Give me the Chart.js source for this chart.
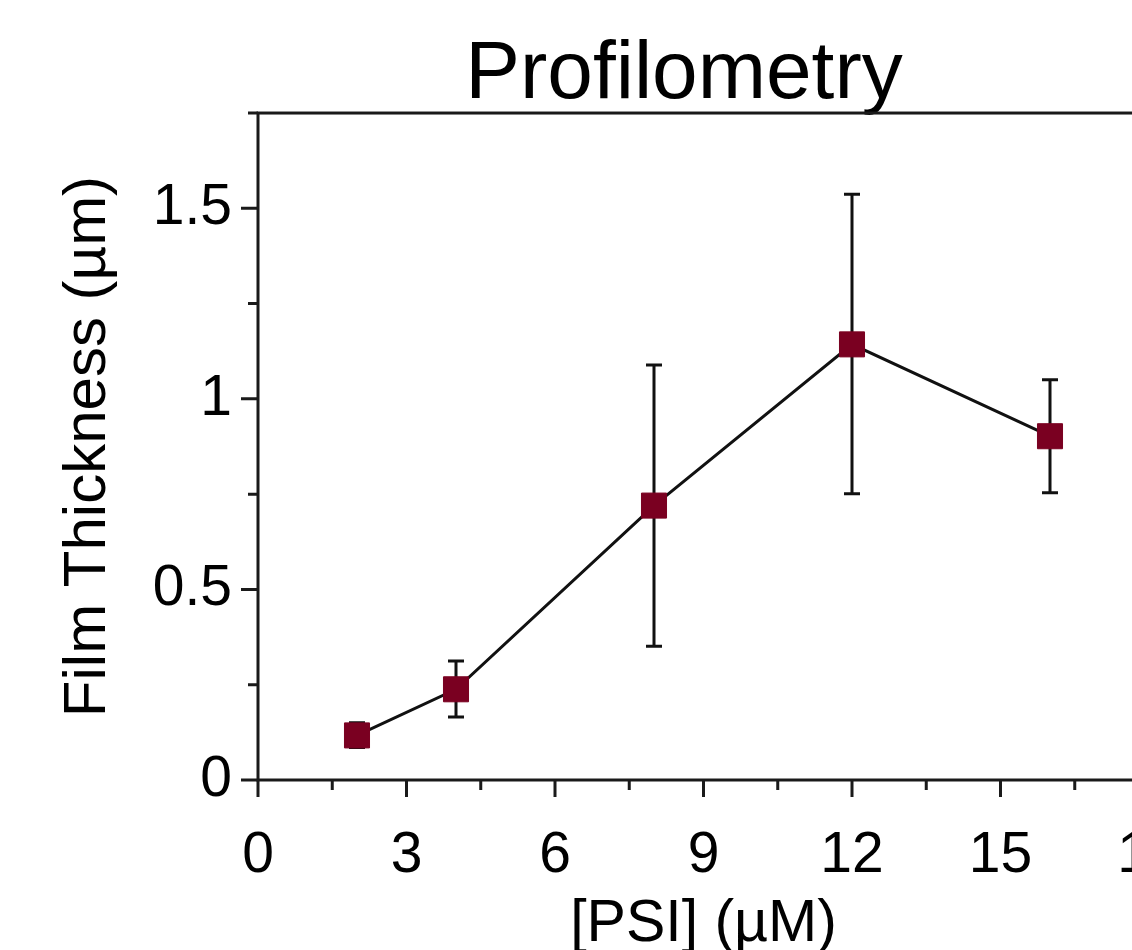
<!DOCTYPE html>
<html>
<head>
<meta charset="utf-8">
<script src="https://cdn.jsdelivr.net/npm/chart.js@4/dist/chart.umd.min.js"></script>
<style>
  html, body { margin: 0; padding: 0; background: #fff; overflow: hidden; }
  #wrap { width: 1368px; height: 960px; position: relative; }
</style>
</head>
<body>
<div id="wrap"><canvas id="chart"></canvas></div>
<script>
// Profilometry - epaisseur du film vs [PSI]
const psiConc = [2, 4, 8, 12, 16];
const thickness = [0.117, 0.238, 0.72, 1.143, 0.902];
const errLow = [0.085, 0.165, 0.351, 0.751, 0.754];
const errHigh = [0.150, 0.312, 1.089, 1.537, 1.050];

const xMajorTicks = [0, 3, 6, 9, 12, 15, 18];
const xMinorTicks = [1.5, 4.5, 7.5, 10.5, 13.5, 16.5];
const yMajorTicks = [0, 0.5, 1, 1.5];
const yMinorTicks = [0.25, 0.75, 1.25, 1.75];

const axisColor = '#1a1a1a';
const markerColor = '#7a0021';

// barres d'erreur sous les marqueurs
const errorBars = {
  id: 'errorBars',
  beforeDatasetsDraw(chart) {
    const ctx = chart.ctx, xs = chart.scales.x, ys = chart.scales.y;
    ctx.save();
    ctx.strokeStyle = '#111';
    ctx.lineWidth = 3;
    psiConc.forEach((x, i) => {
      const px = xs.getPixelForValue(x);
      const top = ys.getPixelForValue(errHigh[i]);
      const bot = ys.getPixelForValue(errLow[i]);
      ctx.beginPath();
      ctx.moveTo(px, top); ctx.lineTo(px, bot);
      ctx.moveTo(px - 8, top); ctx.lineTo(px + 8, top);
      ctx.moveTo(px - 8, bot); ctx.lineTo(px + 8, bot);
      ctx.stroke();
    });
    ctx.restore();
  }
};

// cadre + graduations majeures / mineures
const frameTicks = {
  id: 'frameTicks',
  afterDraw(chart) {
    const ctx = chart.ctx, a = chart.chartArea;
    const xs = chart.scales.x, ys = chart.scales.y;
    ctx.save();
    ctx.strokeStyle = axisColor;
    ctx.lineWidth = 3;
    ctx.strokeRect(a.left, a.top, a.right - a.left, a.bottom - a.top);
    ctx.beginPath();
    xMajorTicks.forEach(v => { const p = xs.getPixelForValue(v); ctx.moveTo(p, a.bottom); ctx.lineTo(p, a.bottom + 17); });
    xMinorTicks.forEach(v => { const p = xs.getPixelForValue(v); ctx.moveTo(p, a.bottom); ctx.lineTo(p, a.bottom + 10); });
    yMajorTicks.forEach(v => { const p = ys.getPixelForValue(v); ctx.moveTo(a.left, p); ctx.lineTo(a.left - 17, p); });
    yMinorTicks.forEach(v => { const p = ys.getPixelForValue(v); ctx.moveTo(a.left, p); ctx.lineTo(a.left - 10, p); });
    ctx.stroke();
    ctx.restore();
  }
};

const fontFam = '"Liberation Sans", Arial, Helvetica, sans-serif';

new Chart(document.getElementById('chart'), {
  type: 'line',
  data: {
    datasets: [{
      data: psiConc.map((x, i) => ({ x: x, y: thickness[i] })),
      borderColor: '#111',
      borderWidth: 3,
      tension: 0,
      pointStyle: 'rect',
      pointRadius: 17.7,
      pointBackgroundColor: markerColor,
      pointBorderColor: markerColor,
      pointBorderWidth: 1,
      clip: false
    }]
  },
  options: {
    responsive: true,
    maintainAspectRatio: false,
    animation: false,
    events: [],
    layout: { padding: 0 },
    plugins: {
      legend: { display: false },
      tooltip: { enabled: false },
      title: {
        display: true,
        text: 'Profilometry',
        color: '#000',
        font: { family: fontFam, size: 82, weight: 'normal', lineHeight: 0.915 },
        padding: { top: 38, bottom: 0 }
      }
    },
    scales: {
      x: {
        type: 'linear',
        min: 0, max: 18,
        afterBuildTicks: s => { s.ticks = xMajorTicks.map(v => ({ value: v })); },
        afterFit: s => { s.height = 180; },
        grid: { display: false, drawTicks: false },
        border: { display: false },
        ticks: { color: '#000', padding: 42, maxRotation: 0, autoSkip: false,
                 font: { family: fontFam, size: 57 } },
        title: { display: true, text: '[PSI] (µM)', color: '#000',
                 font: { family: fontFam, size: 59 }, padding: { top: 0, bottom: 0 } }
      },
      y: {
        type: 'linear',
        min: 0, max: 1.75,
        afterBuildTicks: s => { s.ticks = yMajorTicks.map(v => ({ value: v })); },
        afterFit: s => { s.width = 258; },
        grid: { display: false, drawTicks: false },
        border: { display: false },
        ticks: { color: '#000', padding: 26, callback: v => String(v),
                 font: { family: fontFam, size: 57 } },
        title: { display: true, text: 'Film Thickness (µm)', color: '#000',
                 font: { family: fontFam, size: 60 }, padding: { top: 52, bottom: 0 } }
      },
      yRight: {
        type: 'linear',
        position: 'right',
        afterFit: s => { s.width = 219; },
        grid: { display: false, drawTicks: false },
        border: { display: false },
        ticks: { display: false }
      }
    }
  },
  plugins: [errorBars, frameTicks]
});
</script>
</body>
</html>
